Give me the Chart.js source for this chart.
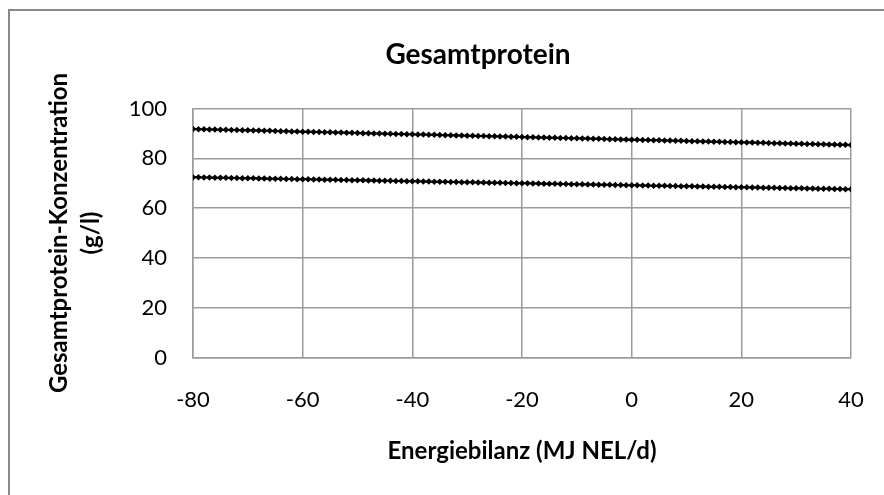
<!DOCTYPE html>
<html>
<head>
<meta charset="utf-8">
<script src="https://cdn.jsdelivr.net/npm/chart.js@4"></script>
<style>
  body { margin: 0; background: #fff; }
</style>
</head>
<body>
<canvas id="chart" width="884" height="495"></canvas>
<script>
// Energiebilanz (MJ NEL/d), one point per unit
const energyBalance = [
  -80, -79, -78, -77, -76, -75, -74, -73, -72, -71, -70, -69, -68, -67, -66,
  -65, -64, -63, -62, -61, -60, -59, -58, -57, -56, -55, -54, -53, -52, -51,
  -50, -49, -48, -47, -46, -45, -44, -43, -42, -41, -40, -39, -38, -37, -36,
  -35, -34, -33, -32, -31, -30, -29, -28, -27, -26, -25, -24, -23, -22, -21,
  -20, -19, -18, -17, -16, -15, -14, -13, -12, -11, -10, -9, -8, -7, -6,
  -5, -4, -3, -2, -1, 0, 1, 2, 3, 4, 5, 6, 7, 8, 9,
  10, 11, 12, 13, 14, 15, 16, 17, 18, 19, 20, 21, 22, 23, 24,
  25, 26, 27, 28, 29, 30, 31, 32, 33, 34, 35, 36, 37, 38, 39,
  40
];

// upper curve (g/l)
const upperProtein = [
  91.8, 91.7, 91.7, 91.6, 91.6, 91.5, 91.5, 91.4, 91.4, 91.3, 91.3, 91.2, 91.2, 91.1, 91.1,
  91.0, 90.9, 90.9, 90.8, 90.8, 90.7, 90.7, 90.6, 90.6, 90.5, 90.5, 90.4, 90.4, 90.3, 90.3,
  90.2, 90.1, 90.1, 90.0, 90.0, 89.9, 89.9, 89.8, 89.8, 89.7, 89.7, 89.6, 89.6, 89.5, 89.5,
  89.4, 89.3, 89.3, 89.2, 89.2, 89.1, 89.1, 89.0, 89.0, 88.9, 88.9, 88.8, 88.8, 88.7, 88.7,
  88.6, 88.5, 88.5, 88.4, 88.4, 88.3, 88.3, 88.2, 88.2, 88.1, 88.1, 88.0, 88.0, 87.9, 87.9,
  87.8, 87.7, 87.7, 87.6, 87.6, 87.5, 87.5, 87.4, 87.4, 87.3, 87.3, 87.2, 87.2, 87.1, 87.1,
  87.0, 86.9, 86.9, 86.8, 86.8, 86.7, 86.7, 86.6, 86.6, 86.5, 86.5, 86.4, 86.4, 86.3, 86.3,
  86.2, 86.1, 86.1, 86.0, 86.0, 85.9, 85.9, 85.8, 85.8, 85.7, 85.7, 85.6, 85.6, 85.5, 85.5,
  85.4
];

// lower curve (g/l)
const lowerProtein = [
  72.4, 72.4, 72.3, 72.3, 72.2, 72.2, 72.2, 72.1, 72.1, 72.0, 72.0, 72.0, 71.9, 71.9, 71.8,
  71.8, 71.8, 71.7, 71.7, 71.6, 71.6, 71.6, 71.5, 71.5, 71.4, 71.4, 71.4, 71.3, 71.3, 71.2,
  71.2, 71.2, 71.1, 71.1, 71.0, 71.0, 71.0, 70.9, 70.9, 70.8, 70.8, 70.8, 70.7, 70.7, 70.6,
  70.6, 70.6, 70.5, 70.5, 70.4, 70.4, 70.4, 70.3, 70.3, 70.2, 70.2, 70.2, 70.1, 70.1, 70.0,
  70.0, 70.0, 69.9, 69.9, 69.8, 69.8, 69.8, 69.7, 69.7, 69.6, 69.6, 69.6, 69.5, 69.5, 69.4,
  69.4, 69.4, 69.3, 69.3, 69.2, 69.2, 69.2, 69.1, 69.1, 69.0, 69.0, 69.0, 68.9, 68.9, 68.8,
  68.8, 68.8, 68.7, 68.7, 68.6, 68.6, 68.6, 68.5, 68.5, 68.4, 68.4, 68.4, 68.3, 68.3, 68.2,
  68.2, 68.2, 68.1, 68.1, 68.0, 68.0, 68.0, 67.9, 67.9, 67.8, 67.8, 67.8, 67.7, 67.7, 67.6,
  67.6
];

const xTicks = [-80, -60, -40, -20, 0, 20, 40];
const yTicks = [0, 20, 40, 60, 80, 100];

const FONT = 'Lato, "Open Sans", sans-serif';
const GRID = '#9b9b9b';

// outer chart frame (only top and left edge are inside the picture)
const frame = {
  id: 'frame',
  beforeDraw(chart) {
    const c = chart.ctx;
    c.save();
    c.fillStyle = '#fff';
    c.fillRect(0, 0, chart.width, chart.height);
    c.strokeStyle = '#8a8a8a';
    c.lineWidth = 2;
    c.beginPath();
    c.moveTo(9, chart.height + 5);
    c.lineTo(9, 10);
    c.lineTo(chart.width + 5, 10);
    c.stroke();
    c.restore();
  }
};

// the original chart frame is wider than the picture, so centre the title on it
const titleCenter = {
  id: 'titleCenter',
  afterLayout(chart) {
    chart.titleBlock.left = 9;
    chart.titleBlock.right = 947;
  }
};

function series(values) {
  return {
    data: values.map((v, i) => ({ x: energyBalance[i], y: v })),
    borderColor: '#000',
    backgroundColor: '#000',
    borderWidth: 2,
    pointStyle: 'rectRot',
    pointRadius: 3.3,
    pointBorderWidth: 0,
    pointBackgroundColor: '#000',
    tension: 0
  };
}

const ctx = document.getElementById('chart');

new Chart(ctx, {
  type: 'line',
  data: {
    datasets: [series(upperProtein), series(lowerProtein)]
  },
  options: {
    responsive: false,
    animation: false,
    layout: { padding: { left: 0, right: 33, top: 0, bottom: 0 } },
    plugins: {
      legend: { display: false },
      tooltip: { enabled: false },
      title: {
        display: true,
        text: 'Gesamtprotein',
        color: '#000',
        font: { family: FONT, size: 28, weight: 'bold', lineHeight: 1.2 },
        padding: { top: 38, bottom: 37 }
      }
    },
    scales: {
      x: {
        type: 'linear',
        min: -80,
        max: 40,
        afterBuildTicks: scale => { scale.ticks = xTicks.map(v => ({ value: v })); },
        afterFit: scale => { scale.height = 137.5; },
        // invisible tick marks push the labels down without widening the side padding
        grid: { color: GRID, lineWidth: 1.5, drawTicks: true, tickLength: 26, tickColor: 'rgba(0,0,0,0)' },
        border: { color: GRID, width: 1.5 },
        ticks: { color: '#000', padding: 3, font: { family: FONT, size: 22 } },
        title: {
          display: true,
          text: 'Energiebilanz (MJ NEL/d)',
          color: '#000',
          font: { family: FONT, size: 24, weight: 'bold', lineHeight: 1.2 },
          padding: { top: 0, bottom: 29 }
        }
      },
      y: {
        min: 0,
        max: 100,
        afterBuildTicks: scale => { scale.ticks = yTicks.map(v => ({ value: v })); },
        afterFit: scale => { scale.width = 193; },
        grid: { color: GRID, lineWidth: 1.5, drawTicks: false },
        border: { color: GRID, width: 1.5 },
        ticks: { color: '#000', padding: 26, font: { family: FONT, size: 22 } },
        title: {
          display: true,
          text: ['Gesamtprotein-Konzentration', '(g/l)'],
          color: '#000',
          font: { family: FONT, size: 24, weight: 'bold', lineHeight: '32px' },
          padding: { top: 43, bottom: 0 }
        }
      }
    }
  },
  plugins: [frame, titleCenter]
});
</script>
</body>
</html>
